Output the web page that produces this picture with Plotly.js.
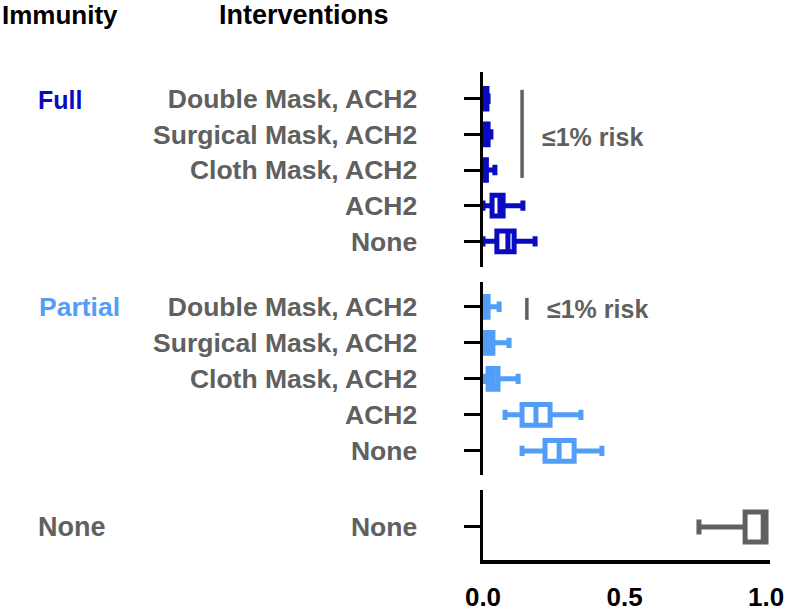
<!DOCTYPE html>
<html>
<head>
<meta charset="utf-8">
<script src="https://cdn.plot.ly/plotly-3.0.1.min.js"></script>
<style>html,body{margin:0;padding:0;background:#fff;}#chart{width:787px;height:611px;}</style>
</head>
<body>
<div id="chart"></div>
<script>
// Categories
const fullCats = ["Double Mask, ACH2", "Surgical Mask, ACH2", "Cloth Mask, ACH2", "ACH2", "None"];
const partialCats = ["Double Mask, ACH2", "Surgical Mask, ACH2", "Cloth Mask, ACH2", "ACH2", "None"];
const noneCats = ["None"];

// Full immunity stats (risk)
const fullLo  = [0.000, 0.000, 0.000, 0.000, 0.000];
const fullQ1  = [0.001, 0.002, 0.003, 0.032, 0.049];
const fullMed = [0.004, 0.008, 0.006, 0.060, 0.088];
const fullQ3  = [0.014, 0.018, 0.012, 0.071, 0.110];
const fullHi  = [0.018, 0.028, 0.042, 0.141, 0.184];

// Partial immunity stats
const partLo  = [0.000, 0.000, 0.003, 0.078, 0.138];
const partQ1  = [0.002, 0.007, 0.018, 0.138, 0.219];
const partMed = [0.008, 0.020, 0.035, 0.187, 0.269];
const partQ3  = [0.018, 0.035, 0.053, 0.237, 0.322];
const partHi  = [0.057, 0.092, 0.124, 0.346, 0.420];

// No immunity stats
const noneLo  = [0.763];
const noneQ1  = [0.926];
const noneMed = [0.990];
const noneQ3  = [1.000];
const noneHi  = [1.000];

const xTicks = [0, 0.5, 1.0];
const xTickText = ["0.0", "0.5", "1.0"];

const cFull = "#0A0AC0";
const cPart = "#529EF6";
const cNone = "#606060";
const FONT = "Liberation Sans, Arial, sans-serif";

function boxTrace(cats, lo, q1, med, q3, hi, color, yax, w, ww) {
  return {
    type: "box", orientation: "h", y: cats,
    lowerfence: lo, q1: q1, median: med, q3: q3, upperfence: hi,
    boxpoints: false, width: w, whiskerwidth: ww,
    line: {color: color, width: 5}, fillcolor: "white",
    yaxis: yax, xaxis: "x", showlegend: false, hoverinfo: "skip"
  };
}

const data = [
  boxTrace(fullCats, fullLo, fullQ1, fullMed, fullQ3, fullHi, cFull, "y", 0.58, 0.5),
  boxTrace(partialCats, partLo, partQ1, partMed, partQ3, partHi, cPart, "y2", 0.58, 0.5),
  boxTrace(noneCats, noneLo, noneQ1, noneMed, noneQ3, noneHi, cNone, "y3", 0.84, 0.5)
];

function yAxis(cats, dom, rng) {
  return {
    domain: dom, type: "category", categoryarray: cats, categoryorder: "array",
    range: rng, showline: true, linecolor: "black", linewidth: 3.5,
    ticks: "outside", ticklen: 16, tickwidth: 3, tickcolor: "black",
    showgrid: false, zeroline: false, anchor: "x", fixedrange: true,
    tickfont: {family: FONT, size: 26.5, color: "#606060", weight: "bold"},
    ticklabelstandoff: 41
  };
}

const PL = 483, PW = 287, PT = 72, PH = 488;
function px(x) { return (x - PL) / PW; }
function py(y) { return (PT + PH - y) / PH; }

const bold = (size, color) => ({family: FONT, size: size, color: color, weight: "bold"});

const layout = {
  width: 787, height: 611,
  margin: {l: PL, r: 787 - PL - PW, t: PT, b: 611 - PT - PH, pad: 0},
  paper_bgcolor: "white", plot_bgcolor: "white",
  xaxis: {
    range: [0, 1.014], anchor: "y3", showline: true, linecolor: "black", linewidth: 3.5,
    ticks: "", tickvals: xTicks, ticktext: xTickText, showgrid: false, zeroline: false,
    tickfont: bold(26, "black"), ticklabelstandoff: 11, fixedrange: true
  },
  yaxis: yAxis(fullCats, [py(267), 1], [4.72, -0.75]),
  yaxis2: yAxis(partialCats, [py(475), py(282)], [4.67, -0.69]),
  yaxis3: yAxis(noneCats, [0, py(490)], [0.92, -1.03]),
  shapes: [
    {type: "line", xref: "x", yref: "y", x0: 0.138, x1: 0.138, y0: -0.25, y1: 2.22,
     line: {color: "#606060", width: 3.5}},
    {type: "line", xref: "x", yref: "y2", x0: 0.155, x1: 0.155, y0: -0.25, y1: 0.36,
     line: {color: "#606060", width: 3.5}}
  ],
  annotations: [
    {text: "Immunity", xref: "paper", yref: "paper", x: px(0), y: py(15), xanchor: "left", yanchor: "middle", showarrow: false, font: bold(26, "black")},
    {text: "Interventions", xref: "paper", yref: "paper", x: px(217), y: py(15), xanchor: "left", yanchor: "middle", showarrow: false, font: bold(27, "black")},
    {text: "Full", xref: "paper", yref: "paper", x: px(36), y: py(100), xanchor: "left", yanchor: "middle", showarrow: false, font: bold(25, cFull)},
    {text: "Partial", xref: "paper", yref: "paper", x: px(37), y: py(307), xanchor: "left", yanchor: "middle", showarrow: false, font: bold(26.5, cPart)},
    {text: "None", xref: "paper", yref: "paper", x: px(36), y: py(527), xanchor: "left", yanchor: "middle", showarrow: false, font: bold(27, cNone)},
    {text: "≤1% risk", xref: "x", yref: "y", x: 0.203, y: 1.06, xanchor: "left", yanchor: "middle", showarrow: false, font: bold(25, "#606060")},
    {text: "≤1% risk", xref: "x", yref: "y2", x: 0.218, y: 0.05, xanchor: "left", yanchor: "middle", showarrow: false, font: bold(25, "#606060")}
  ]
};

Plotly.newPlot("chart", data, layout, {displayModeBar: false, staticPlot: true});
</script>
</body>
</html>
